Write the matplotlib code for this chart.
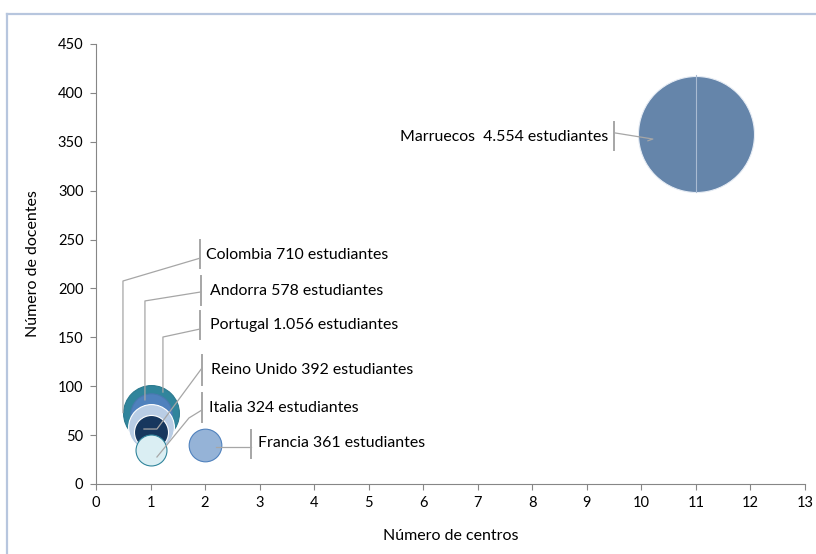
import matplotlib.pyplot as plt
from matplotlib.lines import Line2D
import numpy as np

plt.rcParams['font.family'] = ['Lato', 'DejaVu Sans']

# data
paises = ['Marruecos', 'Portugal', 'Andorra', 'Colombia', 'Reino Unido', 'Italia', 'Francia']
centros = [11, 1, 1, 1, 1, 1, 2]
docentes = [358, 73, 72, 58, 53, 35, 40]
estudiantes = [4554, 1056, 578, 710, 392, 324, 361]
etiquetas = ['4.554', '1.056', '578', '710', '392', '324', '361']

colores = ['#6585AA', '#31859C', '#4F81BD', '#B9CDE5', '#17375E', '#DAEEF3', '#95B3D7']
bordes = ['#E6ECF4', '#2C7A8E', '#4A78B0', '#FFFFFF', '#FFFFFF', '#31859C', '#4F81BD']

# label layout (text anchor, bracket, leader path) in data units
layout = {
    'Colombia':    dict(txt=(2.02, 234), bar=(1.91, 249.5, 221), path=[(1.91, 231), (0.495, 207.6), (0.495, 73)]),
    'Andorra':     dict(txt=(2.09, 197), bar=(1.925, 212.7, 183), path=[(1.925, 196.4), (0.898, 187.2), (0.898, 86)]),
    'Portugal':    dict(txt=(2.09, 162.6), bar=(1.91, 177, 148.3), path=[(1.91, 158.5), (1.228, 150.3), (1.228, 94)]),
    'Reino Unido': dict(txt=(2.11, 116.6), bar=(1.944, 132, 101), path=[(1.944, 118.6), (1.118, 56.2), (0.88, 56.2)]),
    'Italia':      dict(txt=(2.07, 77.7), bar=(1.944, 93, 63.4), path=[(1.944, 75.7), (1.705, 67.5), (1.118, 27.6)]),
    'Francia':     dict(txt=(2.97, 41.9), bar=(2.84, 55, 26.6), path=[(2.84, 37.8), (2.2, 37.8)]),
    'Marruecos':   dict(txt=(9.39, 354.9), bar=(9.50, 370, 341.6), path=[(9.52, 359), (10.21, 352.8), (10.12, 351)]),
}

fig = plt.figure(figsize=(8.16, 5.54), dpi=100)
ax = fig.add_axes([0.1176, 0.1264, 0.8689, 0.7942])

# bubble area proportional to students; biggest bubble ~116 px across
max_diam_pt = 116 * 0.72
sizes = np.array(estudiantes) / max(estudiantes) * max_diam_pt ** 2
# drawn in series order, as in the original
for i in range(len(paises)):
    ax.scatter(centros[i], docentes[i], s=sizes[i], color=colores[i],
               edgecolors=bordes[i], linewidths=0.8, zorder=3 + i)

# faint line across big bubble (as in original)
ax.plot([11, 11], [299, 418], color='#A9BBD2', lw=0.8, zorder=20)

for i, p in enumerate(paises):
    L = layout[p]
    xs, ys = zip(*L['path'])
    ax.plot(xs, ys, color='#A6A6A6', lw=0.9, zorder=30)
    bx, b1, b2 = L['bar']
    ax.plot([bx, bx], [b1, b2], color='#A6A6A6', lw=1.4, zorder=30)
    txt = f'{p} {etiquetas[i]} estudiantes'
    ha = 'left'
    if p == 'Marruecos':
        txt = f'{p}  {etiquetas[i]} estudiantes'
        ha = 'right'
    ax.text(L['txt'][0], L['txt'][1], txt, ha=ha, va='center', fontsize=11.4, zorder=31)

ax.set_xlim(0, 13)
ax.set_ylim(0, 450)
ax.set_xticks(range(0, 14))
ax.set_yticks(range(0, 451, 50))
for s in ['top', 'right']:
    ax.spines[s].set_visible(False)
for s in ['left', 'bottom']:
    ax.spines[s].set_color('#868686')
    ax.spines[s].set_linewidth(0.8)
ax.tick_params(direction='out', length=4, color='#868686', labelsize=10.5, pad=5)

ax.set_xlabel('Número de centros', fontsize=11.5, labelpad=13)
ax.set_ylabel('Número de docentes', fontsize=11.5, labelpad=13)

# chart area border
fig.add_artist(Line2D([7 / 816, 7 / 816], [0, 1 - 14 / 554], color='#B7C6DE', lw=1.6))
fig.add_artist(Line2D([7 / 816, 1], [1 - 14 / 554, 1 - 14 / 554], color='#B7C6DE', lw=1.6))

fig.savefig('out.png', dpi=100)
